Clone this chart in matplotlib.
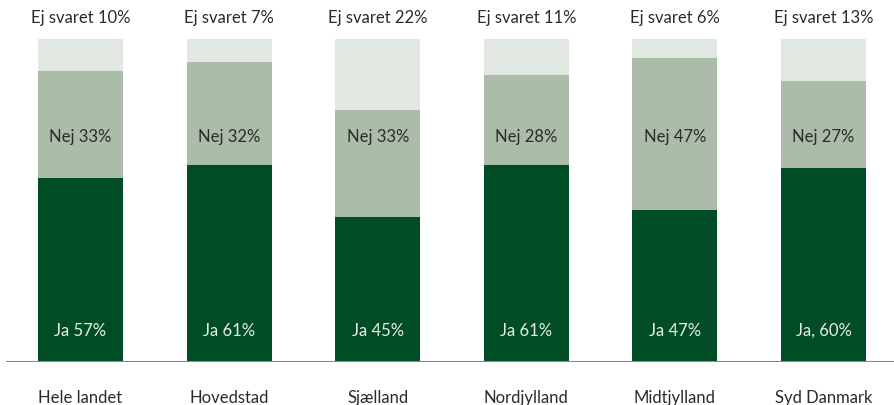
import numpy as np
import matplotlib
matplotlib.use("Agg")
from matplotlib import pyplot as plt

plt.rcParams['font.family'] = ['Lato', 'DejaVu Sans']

regions = ['Hele landet', 'Hovedstad', 'Sjælland', 'Nordjylland', 'Midtjylland', 'Syd Danmark']
ja = [57, 61, 45, 61, 47, 60]
nej = [33, 32, 33, 28, 47, 27]
ej_svaret = [10, 7, 22, 11, 6, 13]
ja_labels = ['Ja 57%', 'Ja 61%', 'Ja 45%', 'Ja 61%', 'Ja 47%', 'Ja, 60%']

c_ja = '#004d25'
c_nej = '#abbda9'
c_ej = '#e1e7e1'

fig = plt.figure(figsize=(8.94, 4.06), dpi=100)
ax = fig.add_axes([6/894, 43/406, 888/894, 323/406])

x = np.arange(len(regions))
ja = np.array(ja)
nej = np.array(nej)
ej_svaret = np.array(ej_svaret)
w = 0.572

ax.bar(x, ja, w, color=c_ja)
ax.bar(x, nej, w, bottom=ja, color=c_nej)
ax.bar(x, ej_svaret, w, bottom=ja + nej, color=c_ej)

fs = 12
for i in range(len(regions)):
    ax.text(x[i], 10, ja_labels[i], ha='center', va='center', fontsize=fs, color='#e6eee6')
    ax.text(x[i], 70, 'Nej %d%%' % nej[i], ha='center', va='center', fontsize=fs, color='#2b2b2b')
    ax.text(x[i], 106.8, 'Ej svaret %d%%' % ej_svaret[i], ha='center', va='center', fontsize=fs,
            color='#2b2b2b', clip_on=False)
    ax.text(x[i], -10.8, regions[i], ha='center', va='center', fontsize=fs,
            color='#2b2b2b', clip_on=False)

ax.set_xlim(-0.501, 5.474)
ax.set_ylim(0, 100)
ax.axhline(0, color='#888888', lw=1.5)
for s in ax.spines.values():
    s.set_visible(False)
ax.set_xticks([])
ax.set_yticks([])

fig.savefig('out.png', dpi=100)
